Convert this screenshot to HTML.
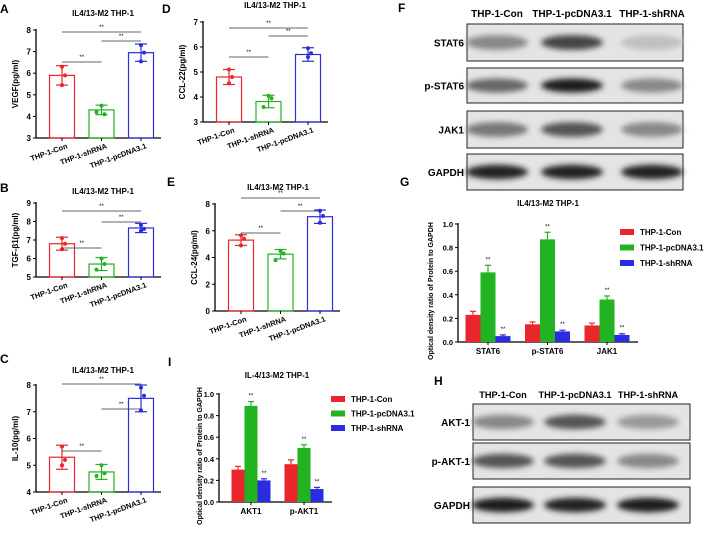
<!DOCTYPE html>
<html><head><meta charset="utf-8"><style>
body{margin:0;background:#fff;}
svg{display:block;font-family:"Liberation Sans",Arial,sans-serif;font-weight:bold;}
</style></head><body>
<svg id="fig" width="709" height="534" viewBox="0 0 709 534">
<defs>
<filter id="blur" x="-20%" y="-50%" width="140%" height="200%"><feGaussianBlur stdDeviation="3"/></filter>
</defs>
</svg>
<script>
const NS="http://www.w3.org/2000/svg";
const svg=document.getElementById('fig');
function mk(tag,attrs,parent,txt){const e=document.createElementNS(NS,tag);for(const k in attrs)e.setAttribute(k,attrs[k]);if(txt!==undefined)e.textContent=txt;(parent||svg).appendChild(e);return e;}
const COLORS=["#e8262b","#22b322","#2b2be0"];

// ---- dot-plot panels data ----
const dotCats=["THP-1-Con","THP-1-shRNA","THP-1-pcDNA3.1"];
const aMeans=[5.9,4.3,6.95];const aErr=[0.45,0.22,0.4];const aPts=[[6.3,5.9,5.45],[4.5,4.1,4.2],[7.3,6.95,6.55]];const aTicks=[3,4,5,6,7,8];
const bMeans=[6.8,5.7,7.65];const bErr=[0.35,0.35,0.25];const bPts=[[7.1,6.8,6.5],[6.0,5.7,5.4],[7.8,7.6,7.5]];const bTicks=[5,6,7,8,9];
const cMeans=[5.3,4.75,7.5];const cErr=[0.45,0.28,0.5];const cPts=[[5.7,5.2,5.0],[5.0,4.7,4.6],[7.9,7.6,7.05]];const cTicks=[4,5,6,7,8];
const dMeans=[4.8,3.82,5.7];const dErr=[0.3,0.25,0.27];const dPts=[[5.1,4.8,4.55],[4.05,3.95,3.6],[5.95,5.75,5.6]];const dTicks=[3,4,5,6,7];
const eMeans=[5.3,4.25,7.05];const eErr=[0.4,0.35,0.5];const ePts=[[5.65,5.4,4.9],[4.5,4.3,3.8],[7.5,7.1,6.6]];const eTicks=[0,2,4,6,8];
// ---- grouped bar panels data ----
const gCats=["STAT6","p-STAT6","JAK1"];const gSeries=["THP-1-Con","THP-1-pcDNA3.1","THP-1-shRNA"];
const gCon=[0.23,0.15,0.14];const gPc=[0.59,0.87,0.36];const gSh=[0.05,0.09,0.06];
const gConE=[0.03,0.02,0.02];const gPcE=[0.06,0.06,0.03];const gShE=[0.01,0.01,0.01];
const gTicks=[0,0.2,0.4,0.6,0.8,1.0];
const iCats=["AKT1","p-AKT1"];
const iCon=[0.3,0.35];const iPc=[0.89,0.5];const iSh=[0.2,0.12];
const iConE=[0.03,0.04];const iPcE=[0.04,0.03];const iShE=[0.015,0.015];
const iTicks=[0,0.2,0.4,0.6,0.8,1.0];

function dotPanel(name,letter,lx,ly,title,tx,ty,ylabel,ax,yTop,yBot,ticks,means,errs,pts,sigs){
  const g=mk('g',{});
  const lo=ticks[0],hi=ticks[ticks.length-1];
  const Y=v=>yBot-(v-lo)/(hi-lo)*(yBot-yTop);
  const L=mk('text',{x:lx,y:ly,'font-size':12},g,letter);
  const T=mk('text',{x:tx,y:ty,'font-size':8,'text-anchor':'middle'},g,title);
  mk('line',{x1:ax,y1:yTop-1,x2:ax,y2:yBot,stroke:'#000','stroke-width':1.3},g);
  mk('line',{x1:ax,y1:yBot,x2:ax+125,y2:yBot,stroke:'#000','stroke-width':1.3},g);
  ticks.forEach(t=>{mk('line',{x1:ax-3,y1:Y(t),x2:ax,y2:Y(t),stroke:'#000'},g);
    const tl=mk('text',{x:ax-5,y:Y(t)+3,'font-size':8,'text-anchor':'end'},g,t);});
  const yl=mk('text',{x:0,y:0,'font-size':8,'text-anchor':'middle',transform:`translate(${ax-18},${(yTop+yBot)/2}) rotate(-90)`},g,ylabel);
  
  const X=i=>ax+26+i*39.5;
  means.forEach((m,i)=>{
    const c=COLORS[i===1?1:(i===2?2:0)];
    const r=mk('rect',{x:X(i)-12.5,y:Y(m),width:25,height:yBot-Y(m),fill:'none',stroke:c,'stroke-width':1.2},g);
    
    mk('line',{x1:X(i),y1:Y(m+errs[i]),x2:X(i),y2:Y(m-errs[i]),stroke:c,'stroke-width':1.2},g);
    mk('line',{x1:X(i)-6,y1:Y(m+errs[i]),x2:X(i)+6,y2:Y(m+errs[i]),stroke:c,'stroke-width':1.2},g);
    mk('line',{x1:X(i)-6,y1:Y(m-errs[i]),x2:X(i)+6,y2:Y(m-errs[i]),stroke:c,'stroke-width':1.2},g);
    pts[i].forEach((p,k)=>{const d=mk('circle',{cx:X(i)+(k===1?3:(k===2&&i===1?-5:0)),cy:Y(p),r:2,fill:c},g);});
    mk('line',{x1:X(i),y1:yBot,x2:X(i),y2:yBot+3,stroke:'#000'},g);
    const xl=mk('text',{x:0,y:0,'font-size':7.5,'text-anchor':'end',transform:`translate(${X(i)+6},${yBot+10}) rotate(-20)`},g,dotCats[i]);
    
  });
  sigs.forEach(s=>{mk('line',{x1:X(s[0]),y1:s[2],x2:X(s[1]),y2:s[2],stroke:'#333','stroke-width':0.8},g);
    mk('text',{x:(X(s[0])+X(s[1]))/2,y:s[2]-3,'font-size':6,'text-anchor':'middle','font-weight':'normal'},g,'**');});
}
dotPanel('panel-a','A',0,13,'IL4/13-M2 THP-1',103,16,'VEGF(pg/ml)',36,30,138,aTicks,aMeans,aErr,aPts,[[0,2,32],[1,2,41],[0,1,62]]);
dotPanel('panel-b','B',0,192,'IL4/13-M2 THP-1',103,194,'TGF-β1(pg/ml)',36,203,277,bTicks,bMeans,bErr,bPts,[[0,2,211],[1,2,222],[0,1,248]]);
dotPanel('panel-c','C',0,363,'IL4/13-M2 THP-1',103,373,'IL-10(pg/ml)',36,385,492,cTicks,cMeans,cErr,cPts,[[0,2,384],[1,2,409],[0,1,451]]);
dotPanel('panel-d','D',162,13,'IL4/13-M2 THP-1',275,8,'CCL-22(pg/ml)',203,22,122,dTicks,dMeans,dErr,dPts,[[0,2,28],[1,2,36],[0,1,57]]);
dotPanel('panel-e','E',167,186,'IL4/13-M2 THP-1',278,190,'CCL-24(pg/ml)',215,204,311,eTicks,eMeans,eErr,ePts,[[0,2,198],[1,2,211],[0,1,233]]);

function barPanel(name,letter,lx,ly,title,tx,ty,ax,ytx,yTop,yBot,xEnd,ticks,cats,groupX,bw,vals,errs,legX,legY,legDy){
  const g=mk('g',{});
  const Y=v=>yBot-v/ticks[ticks.length-1]*(yBot-yTop);
  const L=mk('text',{x:lx,y:ly,'font-size':12},g,letter);
  const T=mk('text',{x:tx,y:ty,'font-size':8,'text-anchor':'middle'},g,title);
  mk('line',{x1:ax,y1:yTop-1,x2:ax,y2:yBot,stroke:'#000','stroke-width':1.3},g);
  mk('line',{x1:ax,y1:yBot,x2:xEnd,y2:yBot,stroke:'#000','stroke-width':1.3},g);
  ticks.forEach(t=>{mk('line',{x1:ax-3,y1:Y(t),x2:ax,y2:Y(t),stroke:'#000'},g);
    const tl=mk('text',{x:ax-5,y:Y(t)+3,'font-size':7.5,'text-anchor':'end'},g,t.toFixed(1));});
  const yl=mk('text',{x:0,y:0,'font-size':7,'text-anchor':'middle',transform:`translate(${ytx},${(yTop+yBot)/2+8}) rotate(-90)`},g,'Optical density ratio of Protein to GAPDH');
  
  cats.forEach((c,i)=>{const cx=groupX(i);
    mk('line',{x1:cx,y1:yBot,x2:cx,y2:yBot+3,stroke:'#000'},g);
    const xl=mk('text',{x:cx,y:yBot+12,'font-size':8,'text-anchor':'middle'},g,c);
    vals.forEach((s,j)=>{const x=cx+(j-1)*bw-bw/2;const v=s[i],e=errs[j][i];const col=COLORS[j];
      const r=mk('rect',{x:x,y:Y(v),width:bw,height:yBot-Y(v),fill:col},g);
      mk('line',{x1:x+bw/2,y1:Y(v),x2:x+bw/2,y2:Y(v+e),stroke:col,'stroke-width':1.2},g);
      mk('line',{x1:x+bw/2-3,y1:Y(v+e),x2:x+bw/2+3,y2:Y(v+e),stroke:col,'stroke-width':1.2},g);
      if(j>0) mk('text',{x:x+bw/2,y:Y(v+e)-4,'font-size':6,'text-anchor':'middle','font-weight':'normal'},g,'**');
    });});
  gSeries.forEach((s,j)=>{const le=mk('g',{},g);
    mk('rect',{x:legX,y:legY+j*legDy-3,width:14,height:6,fill:COLORS[j]},le);
    mk('text',{x:legX+20,y:legY+j*legDy+3,'font-size':8},le,s);});
}
barPanel('panel-g','G',400,186,'IL4/13-M2 THP-1',548,206,458,433,224,342,638,gTicks,gCats,i=>488+i*59.5,15,[gCon,gPc,gSh],[gConE,gPcE,gShE],620,232,15.5);
barPanel('panel-i','I',168,366,'IL-4/13-M2 THP-1',277,378,219,202,394,502,332,iTicks,iCats,i=>251+i*53,13,[iCon,iPc,iSh],[iConE,iPcE,iShE],331,399,14.5);

// western blots
function blot(name,letter,lx,ly,hdrY,hdrFs,x0,x1,lanes,rows){
  const g=mk('g',{});
  const L=mk('text',{x:lx,y:ly,'font-size':12},g,letter);
  ['THP-1-Con','THP-1-pcDNA3.1','THP-1-shRNA'].forEach((h,k)=>{const t=mk('text',{x:lanes[k],y:hdrY,'font-size':hdrFs,'text-anchor':'middle'},g,h);});
  rows.forEach(r=>{const [lab,y0,y1,cols]=r;
    const rg=mk('g',{},g);
    mk('rect',{x:x0,y:y0,width:x1-x0,height:y1-y0,fill:'#e4e4e4',stroke:'#222','stroke-width':1},rg);
    const cy=(y0+y1)/2;
    cols.forEach((c,k)=>{mk('ellipse',{cx:lanes[k],cy:cy,rx:31,ry:(y1-y0)*0.2,fill:c,filter:'url(#blur)'},rg);});
    const t=mk('text',{x:x0-3,y:cy+4,'font-size':10,'text-anchor':'end'},rg,lab);
  });
}
blot('panel-f','F',398,12,17,10,467,683,[497,572,652],[['STAT6',24,61,['#888','#444','#c0c0c0']],['p-STAT6',68,103,['#666','#1e1e1e','#888']],['JAK1',111,148,['#777','#555','#888']],['GAPDH',154,190,['#222','#222','#222']]]);
blot('panel-h','H',434,385,398,9.2,473,690,[503,575,648],[['AKT-1',404,440,['#888','#555','#999']],['p-AKT-1',443,479,['#555','#555','#888']],['GAPDH',487,523,['#1e1e1e','#222','#1e1e1e']]]);
</script>
</body></html>
